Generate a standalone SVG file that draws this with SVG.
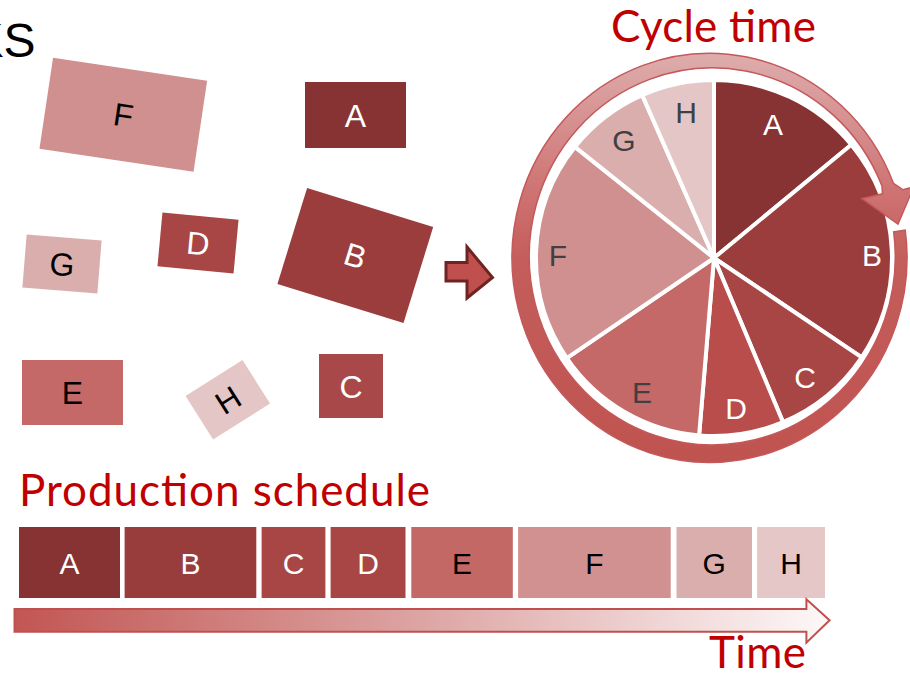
<svg xmlns="http://www.w3.org/2000/svg" width="910" height="674" viewBox="0 0 910 674">
  <style>
    .lbl { font-family: "Liberation Sans", Arial, sans-serif; text-anchor: middle; }
    .w { fill: #ffffff; }
    .k { fill: #000000; }
    .g { fill: #404040; }
    .title { font-family: Lato, "Liberation Sans", sans-serif; fill: #c00000; }
    .slice { stroke: #ffffff; stroke-width: 4; stroke-linejoin: round; }
  </style>
  <defs>
    <linearGradient id="ringGrad" gradientUnits="userSpaceOnUse" x1="0" y1="53" x2="0" y2="462">
      <stop offset="0" stop-color="#deadad"/>
      <stop offset="0.33" stop-color="#cf7474"/>
      <stop offset="0.5" stop-color="#c45e5b"/>
      <stop offset="1" stop-color="#bf5350"/>
    </linearGradient>
    <linearGradient id="timeGrad" gradientUnits="userSpaceOnUse" x1="15" y1="0" x2="830" y2="0">
      <stop offset="0" stop-color="#c25653"/>
      <stop offset="0.5" stop-color="#dca5a4"/>
      <stop offset="1" stop-color="#fdf8f8"/>
    </linearGradient>
  </defs>

  <!-- page heading fragment -->
  <text x="35.5" y="57" font-family="Liberation Sans, Arial, sans-serif" font-size="48" text-anchor="end" fill="#000">TASKS</text>

  <!-- loose tasks -->
  <g id="task-F" transform="translate(123.3,114.8) rotate(8.5)">
    <rect x="-77.9" y="-46" width="155.8" height="92" fill="#d09090"/>
    <text class="lbl k" y="11.5" font-size="32">F</text>
  </g>
  <g id="task-A" transform="translate(355.5,115)">
    <rect x="-50.5" y="-33" width="101" height="66" fill="#873333"/>
    <text class="lbl w" y="11.5" font-size="32">A</text>
  </g>
  <g id="task-G" transform="translate(62,264) rotate(4.6)">
    <rect x="-37.6" y="-26.6" width="75.2" height="53.2" fill="#dbaeae"/>
    <text class="lbl k" y="11.5" font-size="32">G</text>
  </g>
  <g id="task-D" transform="translate(198,243) rotate(5.3)">
    <rect x="-38.2" y="-27" width="76.4" height="54" fill="#a84545"/>
    <text class="lbl w" y="11.5" font-size="32">D</text>
  </g>
  <g id="task-B" transform="translate(355.3,255.5) rotate(17.2)">
    <rect x="-66" y="-50.2" width="132" height="100.4" fill="#9b3d3d"/>
    <text class="lbl w" y="11.5" font-size="32">B</text>
  </g>
  <g id="task-E" transform="translate(72.5,392.5)">
    <rect x="-50.5" y="-32.5" width="101" height="65" fill="#c46868"/>
    <text class="lbl k" y="11.5" font-size="32">E</text>
  </g>
  <g id="task-H" transform="translate(227.8,399.8) rotate(-32.3)">
    <rect x="-33.7" y="-25.8" width="67.4" height="51.6" fill="#e5c6c6"/>
    <text class="lbl k" y="11.5" font-size="32">H</text>
  </g>
  <g id="task-C" transform="translate(351,386)">
    <rect x="-32" y="-32" width="64" height="64" fill="#a84848"/>
    <text class="lbl w" y="11.5" font-size="32">C</text>
  </g>

  <!-- connectors -->
  <g id="connectors">
    <path d="M446,262.5 H467 V247 L492.5,277.5 L467,298 V281 H446 Z" fill="#c0504d" stroke="#6e2423" stroke-width="3" stroke-linejoin="miter"/>
  </g>

  <!-- cycle time wheel: pie first, then the circular arrow whose head overlaps slice B -->
  <g id="cycle-pie">
    <path class="slice" d="M714,258 L714,80 A178,178 0 0 1 851.3,144.8 Z" fill="#873333"/>
    <path class="slice" d="M714,258 L851.3,144.8 A178,178 0 0 1 861.7,357.3 Z" fill="#9b3d3d"/>
    <path class="slice" d="M714,258 L861.7,357.3 A178,178 0 0 1 783,422.1 Z" fill="#a84545"/>
    <path class="slice" d="M714,258 L783,422.1 A178,178 0 0 1 699.1,435.4 Z" fill="#b84d4b"/>
    <path class="slice" d="M714,258 L699.1,435.4 A178,178 0 0 1 566.8,358.1 Z" fill="#c46868"/>
    <path class="slice" d="M714,258 L566.8,358.1 A178,178 0 0 1 574.9,146.9 Z" fill="#d09090"/>
    <path class="slice" d="M714,258 L574.9,146.9 A178,178 0 0 1 642.2,95.1 Z" fill="#dbaeae"/>
    <path class="slice" d="M714,258 L642.2,95.1 A178,178 0 0 1 714,80 Z" fill="#e5c6c6"/>
    <text class="lbl w" x="773" y="135" font-size="30">A</text>
    <text class="lbl w" x="872" y="265.5" font-size="30">B</text>
    <text class="lbl w" x="805" y="388" font-size="30">C</text>
    <text class="lbl w" x="736" y="419" font-size="30">D</text>
    <text class="lbl g" x="642" y="403" font-size="30">E</text>
    <text class="lbl g" x="558" y="265.5" font-size="30">F</text>
    <text class="lbl g" x="624" y="151" font-size="30">G</text>
    <text class="lbl g" x="686" y="123" font-size="30">H</text>
  </g>
  <g id="cycle-ring">
    <path d="M905.2,230.1 A197.5,204.5 0 1 1 893.5,183.5 L903,189.8 L914,186.5 L898,224 L862,198.5 L882.5,193.8 L882,186 A183,188.5 0 1 0 893.7,231.9 Z" fill="url(#ringGrad)" stroke="#c4585a" stroke-width="1.5" stroke-linejoin="miter"/>
  </g>
  <text class="title" x="611" y="42" font-size="44" textLength="205">Cycle time</text>

  <!-- production schedule -->
  <text class="title" x="19" y="506" font-size="44" textLength="411">Production schedule</text>
  <g id="schedule">
    <g id="slot-A"><rect x="19" y="527" width="101" height="71" fill="#873333"/><text class="lbl w" x="69.5" y="574" font-size="30">A</text></g>
    <g id="slot-B"><rect x="124.6" y="527" width="131.7" height="71" fill="#983d3b"/><text class="lbl w" x="190.5" y="574" font-size="30">B</text></g>
    <g id="slot-C"><rect x="261.6" y="527" width="63.8" height="71" fill="#a84645"/><text class="lbl w" x="293.5" y="574" font-size="30">C</text></g>
    <g id="slot-D"><rect x="330.6" y="527" width="74.9" height="71" fill="#a84645"/><text class="lbl w" x="368" y="574" font-size="30">D</text></g>
    <g id="slot-E"><rect x="411.3" y="527" width="101.5" height="71" fill="#c46866"/><text class="lbl k" x="462" y="574" font-size="30">E</text></g>
    <g id="slot-F"><rect x="518.1" y="527" width="152.6" height="71" fill="#d09190"/><text class="lbl k" x="594.4" y="574" font-size="30">F</text></g>
    <g id="slot-G"><rect x="676.5" y="527" width="75.5" height="71" fill="#dbaeae"/><text class="lbl k" x="714.2" y="574" font-size="30">G</text></g>
    <g id="slot-H"><rect x="757.1" y="527" width="67.9" height="71" fill="#e6c7c7"/><text class="lbl k" x="791" y="574" font-size="30">H</text></g>
  </g>
  <g id="time-axis">
    <path d="M14.5,609 H806.4 V599.3 L829.6,620.3 L806.4,642.7 V631.7 H14.5 Z" fill="url(#timeGrad)" stroke="#c0504d" stroke-width="2"/>
  </g>
  <text class="title" x="709" y="668" font-size="44" textLength="97">Time</text>
</svg>
